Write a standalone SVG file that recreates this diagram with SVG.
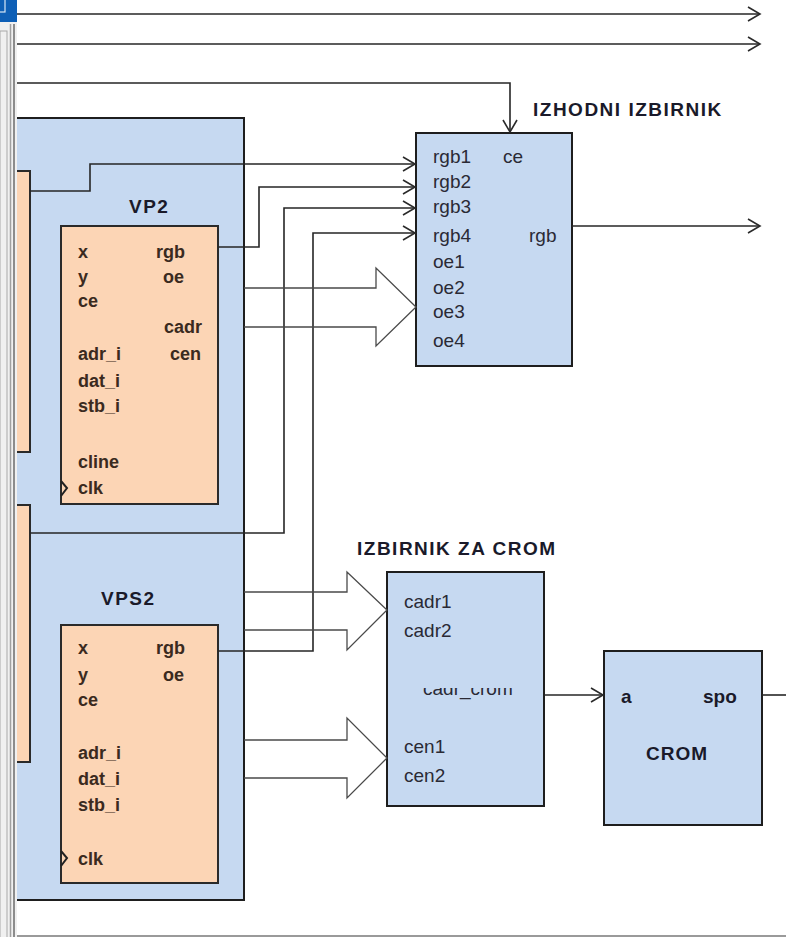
<svg xmlns="http://www.w3.org/2000/svg" width="786" height="937" viewBox="0 0 786 937">
<defs>
<marker id="arr" markerUnits="userSpaceOnUse" markerWidth="16" markerHeight="18" refX="13" refY="8" orient="auto">
<path d="M1,1 L13,8 L1,15" fill="none" stroke="#2a2a2a" stroke-width="1.6"/>
</marker>
<clipPath id="clipCrom"><rect x="400" y="688" width="140" height="20"/></clipPath>
<style>
.blue{fill:#c6d9f1;stroke:#1e1e1e;stroke-width:2}
.org{fill:#fcd5b5;stroke:#2a2a2a;stroke-width:2}
.w{fill:none;stroke:#262626;stroke-width:1.6}
.blk{fill:none;stroke:#4a4a4a;stroke-width:1.3}
.lbl{font-family:"Liberation Sans",Arial,sans-serif;font-size:18px;font-weight:bold;fill:#3a2a20}
.reg{font-family:"Liberation Sans",Arial,sans-serif;font-size:19px;fill:#2a2a35}
.ttl{font-family:"Liberation Sans",Arial,sans-serif;font-size:19px;font-weight:bold;fill:#1a1a2a;letter-spacing:1.5px}
.sm{font-family:"Liberation Sans",Arial,sans-serif;font-size:19px;font-weight:bold;fill:#1a1a2a}
</style>
</defs>
<rect x="0" y="0" width="786" height="937" fill="#ffffff"/>

<g id="outer-block">
<rect class="blue" x="8" y="118" width="236" height="782"/>
</g>
<g id="left-box-1"><rect class="org" x="5" y="171" width="25" height="281"/></g>
<g id="left-box-2"><rect class="org" x="5" y="505" width="25" height="257"/></g>

<g id="VP2">
<text class="ttl" x="129" y="213">VP2</text>
<rect class="org" x="61" y="226" width="157" height="278"/>
<path d="M61,481 L67,488 L61,496" fill="none" stroke="#222" stroke-width="2"/>
<text class="lbl" x="78" y="258">x</text>
<text class="lbl" x="156" y="258">rgb</text>
<text class="lbl" x="78" y="283">y</text>
<text class="lbl" x="163" y="283">oe</text>
<text class="lbl" x="78" y="307">ce</text>
<text class="lbl" x="164" y="333">cadr</text>
<text class="lbl" x="78" y="360">adr_i</text>
<text class="lbl" x="170" y="360">cen</text>
<text class="lbl" x="78" y="387">dat_i</text>
<text class="lbl" x="78" y="412">stb_i</text>
<text class="lbl" x="78" y="468">cline</text>
<text class="lbl" x="78" y="494">clk</text>
</g>

<g id="VPS2">
<text class="ttl" x="101" y="605">VPS2</text>
<rect class="org" x="61" y="625" width="157" height="258"/>
<path d="M61,851 L67,858 L61,866" fill="none" stroke="#222" stroke-width="2"/>
<text class="lbl" x="78" y="654">x</text>
<text class="lbl" x="156" y="654">rgb</text>
<text class="lbl" x="78" y="681">y</text>
<text class="lbl" x="163" y="681">oe</text>
<text class="lbl" x="78" y="706">ce</text>
<text class="lbl" x="78" y="759">adr_i</text>
<text class="lbl" x="78" y="785">dat_i</text>
<text class="lbl" x="78" y="811">stb_i</text>
<text class="lbl" x="78" y="865">clk</text>
</g>

<g id="IZHODNI-IZBIRNIK">
<text class="ttl" x="533" y="116">IZHODNI IZBIRNIK</text>
<rect class="blue" x="416" y="133" width="156" height="233"/>
<text class="reg" x="433" y="163">rgb1</text>
<text class="reg" x="503" y="163">ce</text>
<text class="reg" x="433" y="188">rgb2</text>
<text class="reg" x="433" y="213">rgb3</text>
<text class="reg" x="433" y="242">rgb4</text>
<text class="reg" x="529" y="242">rgb</text>
<text class="reg" x="433" y="268">oe1</text>
<text class="reg" x="433" y="294">oe2</text>
<text class="reg" x="433" y="318">oe3</text>
<text class="reg" x="433" y="347">oe4</text>
</g>

<g id="IZBIRNIK-ZA-CROM">
<text class="ttl" x="357" y="555">IZBIRNIK ZA CROM</text>
<rect class="blue" x="387" y="572" width="157" height="234"/>
<text class="reg" x="404" y="608">cadr1</text>
<text class="reg" x="404" y="637">cadr2</text>
<text class="reg" x="423" y="695" clip-path="url(#clipCrom)">cadr_crom</text>
<text class="reg" x="404" y="753">cen1</text>
<text class="reg" x="404" y="782">cen2</text>
</g>

<g id="CROM">
<rect class="blue" x="604" y="651" width="158" height="174"/>
<text class="sm" x="621" y="703">a</text>
<text class="sm" x="703" y="703">spo</text>
<text class="ttl" x="646" y="760" style="letter-spacing:1px">CROM</text>
</g>

<g id="connectors">
<path class="w" d="M10,14 H760" marker-end="url(#arr)"/>
<path class="w" d="M10,44 H760" marker-end="url(#arr)"/>
<path class="w" d="M10,83 H510 V132" marker-end="url(#arr)"/>
<path class="w" d="M30,191 H90 V164 H415" marker-end="url(#arr)"/>
<path class="w" d="M218,247 H259 V187 H415" marker-end="url(#arr)"/>
<path class="w" d="M30,533 H284 V208 H415" marker-end="url(#arr)"/>
<path class="w" d="M218,651 H313 V233 H415" marker-end="url(#arr)"/>
<path class="w" d="M572,226 H760" marker-end="url(#arr)"/>
<path class="w" d="M544,695 H603" marker-end="url(#arr)"/>
<path class="w" d="M762,695 H786"/>
<path class="blk" d="M244,288 H376 V268 L416,307 L376,346 V327 H244"/>
<path class="blk" d="M244,592 H347 V572 L387,610 L347,650 V630 H244"/>
<path class="blk" d="M244,740 H347 V718 L387,758 L347,798 V778 H244"/>
</g>

<g id="window-frame">
<rect x="0" y="22" width="17" height="915" fill="#f0f0f0"/>
<rect x="0" y="31" width="7" height="920" fill="none" stroke="#a8a8a8" stroke-width="1"/>
<line x1="10.5" y1="24" x2="10.5" y2="937" stroke="#a0a0a0" stroke-width="1.5"/>
<line x1="14" y1="24" x2="14" y2="937" stroke="#8c8c8c" stroke-width="2"/>
<rect x="0" y="0" width="17" height="22" fill="#0e5fb6"/>
<rect x="-1" y="-1" width="6" height="13" fill="none" stroke="#d8e6f5" stroke-width="1.2"/>
<line x1="17" y1="936" x2="786" y2="936" stroke="#9a9a9a" stroke-width="2"/>
</g>
</svg>
